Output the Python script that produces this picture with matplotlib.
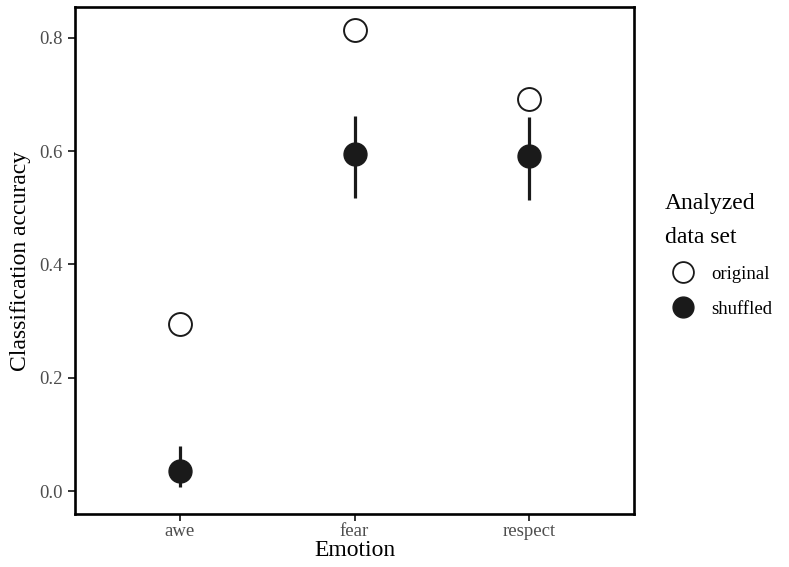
import matplotlib
matplotlib.use("Agg")
import matplotlib.pyplot as plt
from matplotlib.lines import Line2D

plt.rcParams['font.family'] = ['Liberation Serif', 'DejaVu Serif']

emotions = ['awe', 'fear', 'respect']
original = [0.295, 0.814, 0.692]
shuffled = [0.035, 0.595, 0.592]
shuf_lo = [0.007, 0.517, 0.514]
shuf_hi = [0.079, 0.662, 0.660]
yticks = [0.0, 0.2, 0.4, 0.6, 0.8]

fig = plt.figure(figsize=(7.89, 5.67), dpi=100)
ax = fig.add_axes([75/789, 1-514/567, 559/789, 507/567])

x = range(1, len(emotions)+1)
ax.vlines(x, shuf_lo, shuf_hi, color='#1a1a1a', lw=2.3, zorder=2)
ax.plot(x, shuffled, 'o', ms=16.5, color='#1a1a1a', mec='#1a1a1a', zorder=3)
ax.plot(x, original, 'o', ms=16.5, mfc='white', mec='#1a1a1a', mew=1.4, zorder=3)

ax.set_xlim(0.4, 3.6)
ax.set_ylim(-0.0406, 0.8547)
ax.set_xticks(list(x))
ax.set_xticklabels(emotions)
ax.set_yticks(yticks)
ax.set_yticklabels(['%.1f' % t for t in yticks])
ax.tick_params(labelsize=13.5, color='#333333', width=1.4, length=5, pad=4)
ax.tick_params(axis='x', pad=1.5)
for lab in ax.get_xticklabels() + ax.get_yticklabels():
    lab.set_color('#4d4d4d')
for s in ax.spines.values():
    s.set_linewidth(1.9)
    s.set_color('black')

ax.set_xlabel('Emotion', fontsize=17, labelpad=0)
ax.set_ylabel('Classification accuracy', fontsize=17, labelpad=6)

handles = [
    Line2D([], [], ls='', marker='o', ms=15, mfc='white', mec='#1a1a1a', mew=1.3),
    Line2D([], [], ls='', marker='o', ms=15, color='#1a1a1a'),
]
leg = fig.legend(handles, ['original', 'shuffled'], title='Analyzed\ndata set',
                 loc='upper left', bbox_to_anchor=(648/789, 1-176/567),
                 frameon=False, fontsize=13.5, title_fontsize=17,
                 handletextpad=0.55, labelspacing=0.95, handlelength=1.9)
leg._legend_box.align = 'left'
leg.get_title().set_linespacing(1.8)

fig.savefig('out.png', dpi=100)
